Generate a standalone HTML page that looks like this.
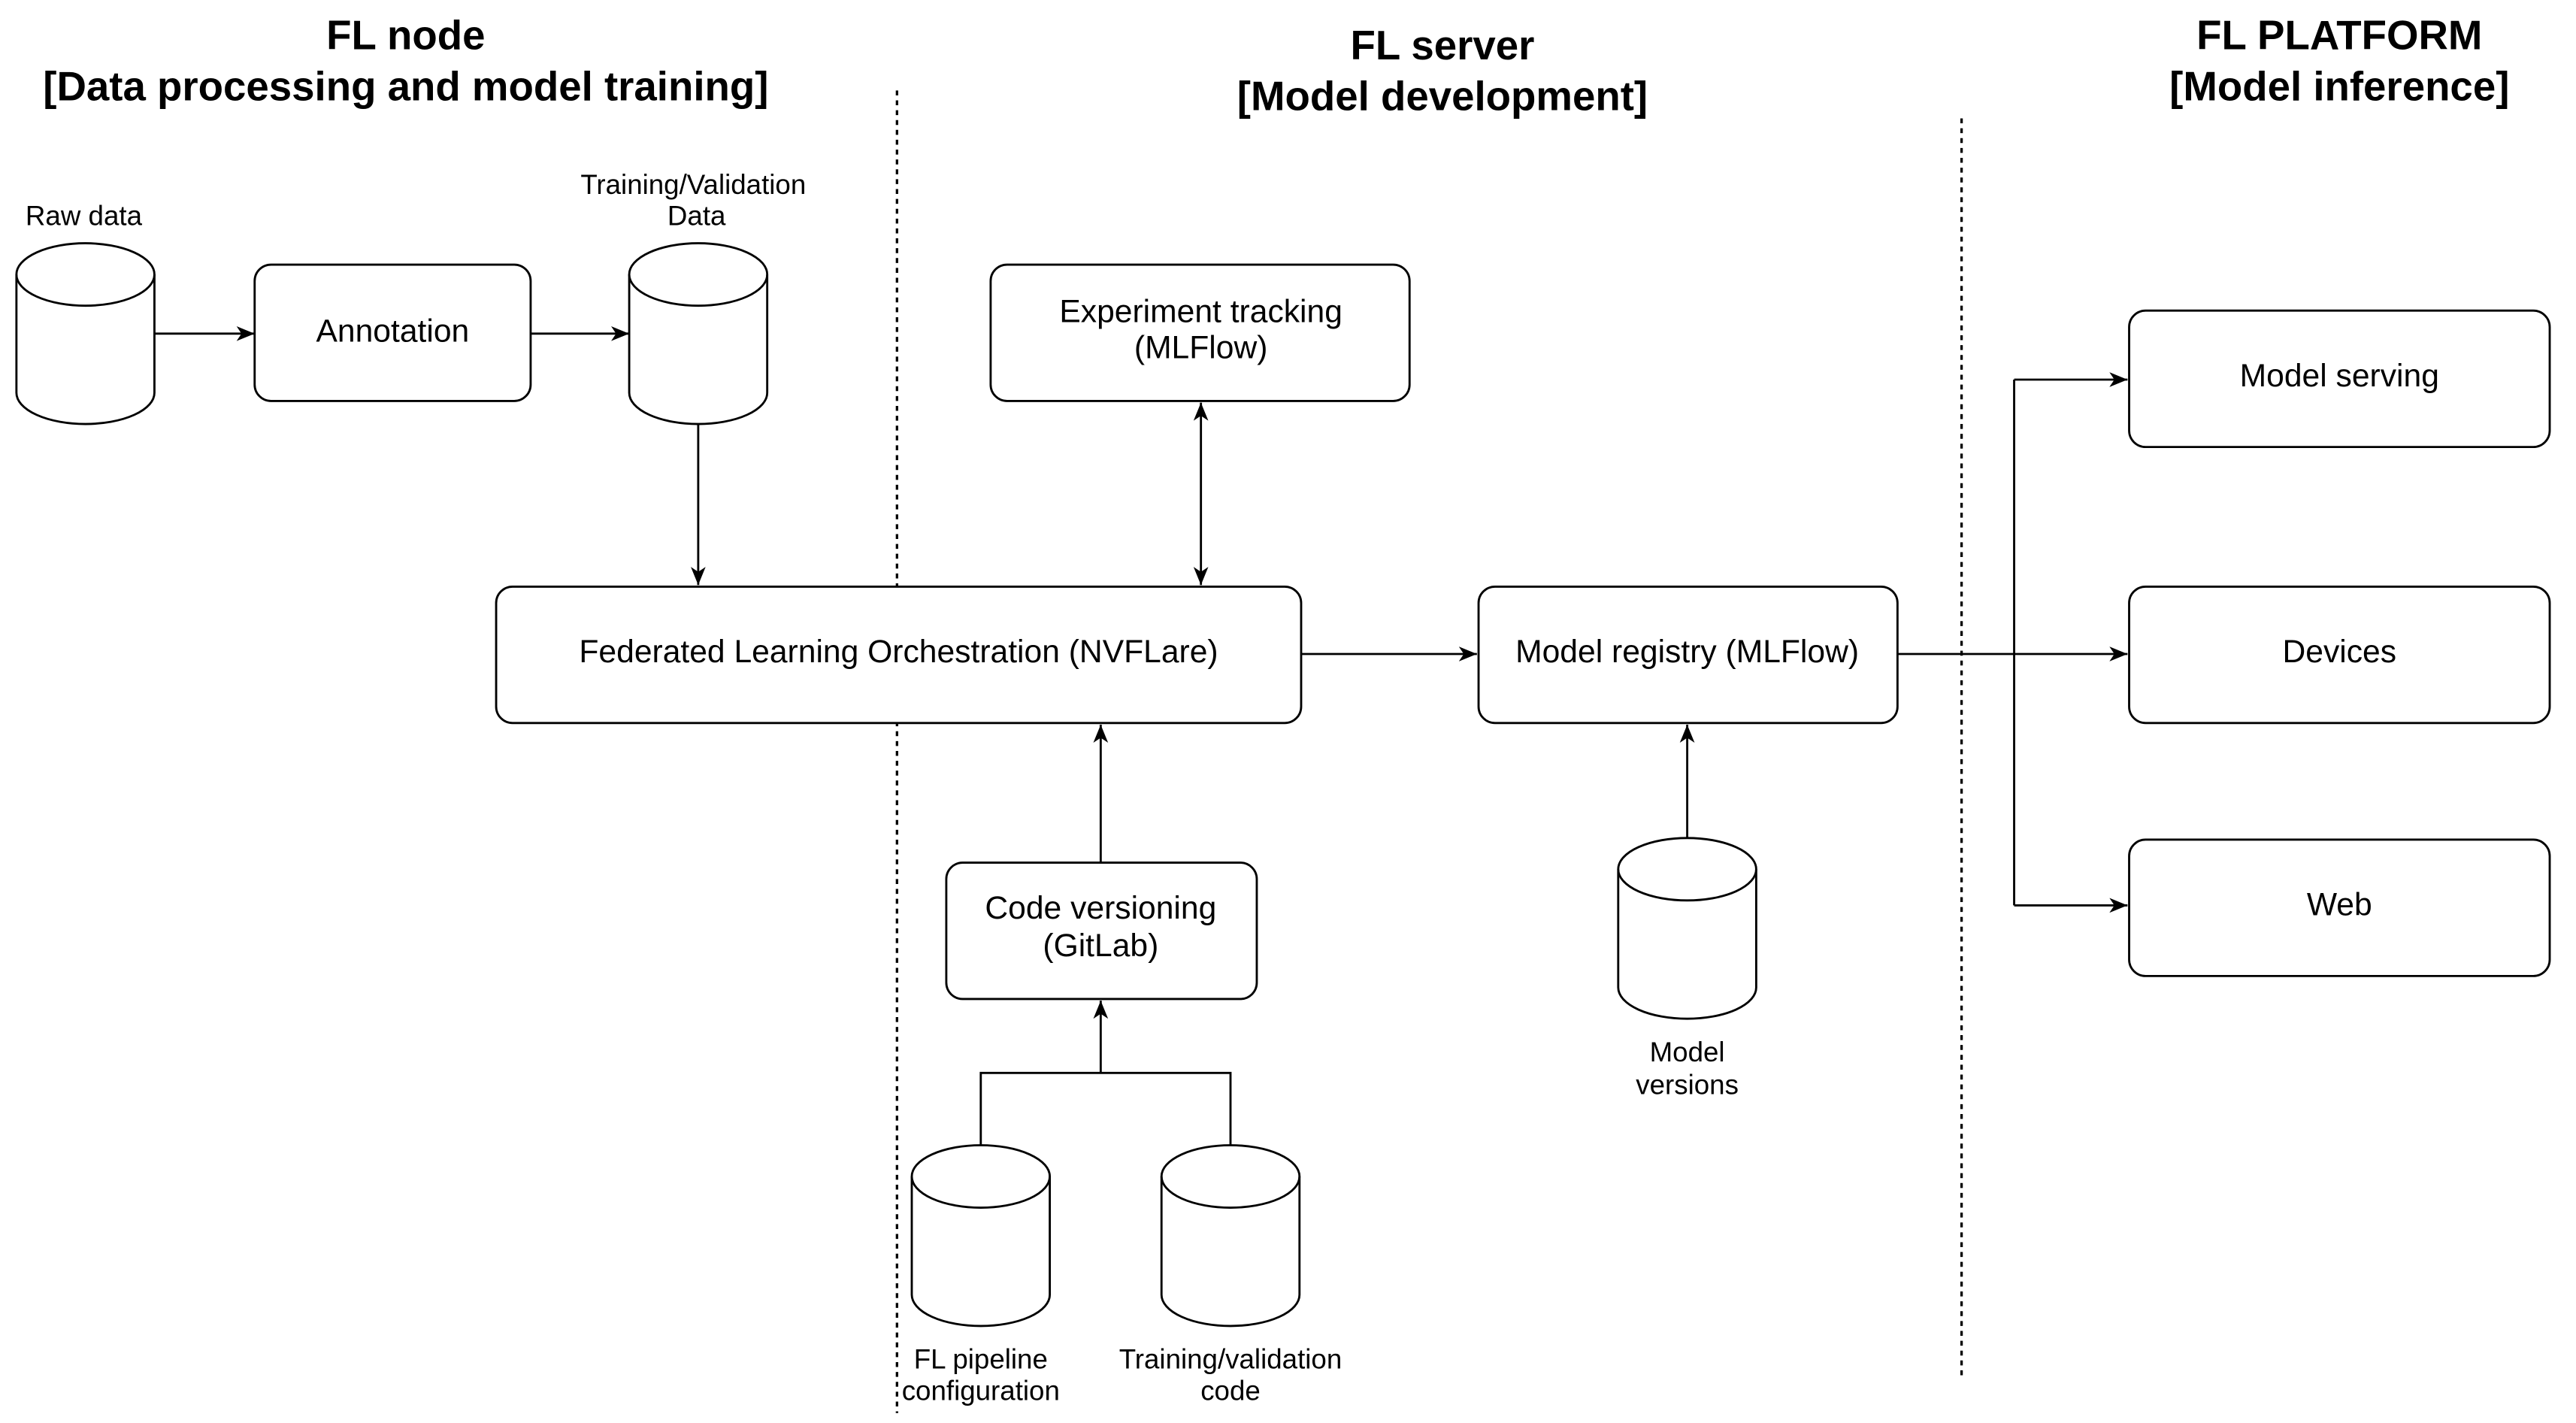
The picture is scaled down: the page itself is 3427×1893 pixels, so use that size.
<!DOCTYPE html>
<html><head><meta charset="utf-8"><style>
html,body{margin:0;padding:0;background:#fff;width:3427px;height:1893px;overflow:hidden}
svg{display:block}
text{font-family:"Liberation Sans",Arial,sans-serif;fill:#000;text-anchor:middle}
.t{font-size:25px;font-weight:bold}
.b{font-size:19.5px}
.s{font-size:16.8px}
.box{fill:#fff;stroke:#000;stroke-width:1.3}
.ln{fill:none;stroke:#000;stroke-width:1.3}
.dash{stroke:#000;stroke-width:1.5;stroke-dasharray:3,3}
</style></head><body>
<svg width="3427" height="1893" viewBox="0 0 1568 866" xmlns="http://www.w3.org/2000/svg">
<defs>
<marker id="a" markerWidth="12" markerHeight="12" refX="11" refY="6" orient="auto" markerUnits="userSpaceOnUse">
<path d="M0,1.5 L11,6 L0,10.5 L3,6 Z" fill="#000"/></marker>
<marker id="as" markerWidth="12" markerHeight="12" refX="1" refY="6" orient="auto" markerUnits="userSpaceOnUse">
<path d="M12,1.5 L1,6 L12,10.5 L9,6 Z" fill="#000"/></marker>
<g id="cyl">
<path class="box" d="M0,19 A42,19 0 0 1 84,19 L84,91 A42,19 0 0 1 0,91 Z"/>
<path class="ln" d="M0,19 A42,19 0 0 0 84,19"/>
</g>
</defs>

<!-- titles -->
<text class="t" x="247" y="30">FL node</text>
<text class="t" x="247" y="61">[Data processing and model training]</text>
<text class="t" x="878" y="36">FL server</text>
<text class="t" x="878" y="67">[Model development]</text>
<text class="t" x="1424" y="30">FL PLATFORM</text>
<text class="t" x="1424" y="61">[Model inference]</text>

<line class="dash" x1="546" y1="55" x2="546" y2="860"/>
<line class="dash" x1="1194" y1="72" x2="1194" y2="840"/>

<!-- FL node -->
<text class="s" x="51" y="137">Raw data</text>
<use href="#cyl" x="10" y="148"/>
<rect class="box" x="155" y="161" width="168" height="83" rx="10"/>
<text class="b" x="239" y="208">Annotation</text>
<text class="s" x="422" y="118">Training/Validation</text>
<text class="s" x="424" y="137">Data</text>
<use href="#cyl" x="383" y="148"/>
<line class="ln" x1="94" y1="203" x2="155" y2="203" marker-end="url(#a)"/>
<line class="ln" x1="323" y1="203" x2="383" y2="203" marker-end="url(#a)"/>
<line class="ln" x1="425" y1="258" x2="425" y2="356" marker-end="url(#a)"/>

<!-- orchestration -->
<rect class="box" x="302" y="357" width="490" height="83" rx="10"/>
<text class="b" x="547" y="403">Federated Learning Orchestration (NVFLare)</text>

<rect class="box" x="603" y="161" width="255" height="83" rx="10"/>
<text class="b" x="731" y="196">Experiment tracking</text>
<text class="b" x="731" y="218">(MLFlow)</text>
<line class="ln" x1="731" y1="245" x2="731" y2="356" marker-start="url(#as)" marker-end="url(#a)"/>

<rect class="box" x="576" y="525" width="189" height="83" rx="10"/>
<text class="b" x="670" y="559">Code versioning</text>
<text class="b" x="670" y="582">(GitLab)</text>
<line class="ln" x1="670" y1="525" x2="670" y2="441" marker-end="url(#a)"/>
<path class="ln" d="M597,697 V653 H749 V697"/>
<line class="ln" x1="670" y1="653" x2="670" y2="609" stroke-width="2" marker-end="url(#a)"/>
<use href="#cyl" x="555" y="697"/>
<use href="#cyl" x="707" y="697"/>
<text class="s" x="597" y="833">FL pipeline</text>
<text class="s" x="597" y="852">configuration</text>
<text class="s" x="749" y="833">Training/validation</text>
<text class="s" x="749" y="852">code</text>

<!-- registry -->
<line class="ln" x1="792" y1="398" x2="899" y2="398" marker-end="url(#a)"/>
<rect class="box" x="900" y="357" width="255" height="83" rx="10"/>
<text class="b" x="1027" y="403">Model registry (MLFlow)</text>
<use href="#cyl" x="985" y="510"/>
<line class="ln" x1="1027" y1="510" x2="1027" y2="441" marker-end="url(#a)"/>
<text class="s" x="1027" y="646">Model</text>
<text class="s" x="1027" y="666">versions</text>

<!-- platform -->
<line class="ln" x1="1155" y1="398" x2="1295" y2="398" marker-end="url(#a)"/>
<path class="ln" d="M1226,231 V551"/>
<line class="ln" x1="1226" y1="231" x2="1295" y2="231" marker-end="url(#a)"/>
<line class="ln" x1="1226" y1="551" x2="1295" y2="551" marker-end="url(#a)"/>
<rect class="box" x="1296" y="189" width="256" height="83" rx="10"/>
<text class="b" x="1424" y="235">Model serving</text>
<rect class="box" x="1296" y="357" width="256" height="83" rx="10"/>
<text class="b" x="1424" y="403">Devices</text>
<rect class="box" x="1296" y="511" width="256" height="83" rx="10"/>
<text class="b" x="1424" y="557">Web</text>
</svg>
</body></html>
